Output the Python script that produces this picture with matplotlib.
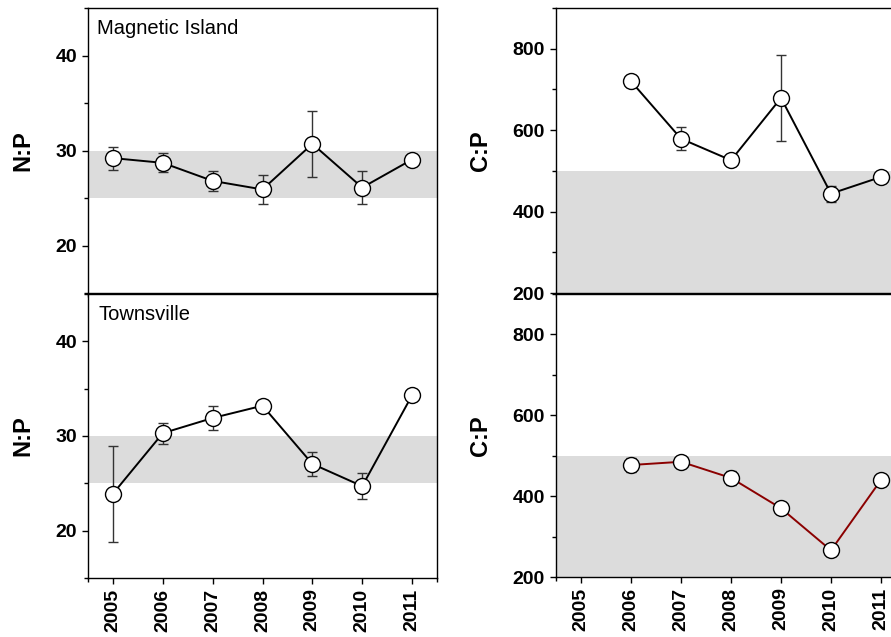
import matplotlib
matplotlib.use("Agg")
import matplotlib.pyplot as plt

plt.rcParams['font.family'] = ['Liberation Sans', 'DejaVu Sans']

years = [2005, 2006, 2007, 2008, 2009, 2010, 2011]

# Magnetic Island
mi_np = [29.2, 28.7, 26.8, 25.9, 30.7, 26.1, 29.05]
mi_np_err = [1.2, 1.0, 1.05, 1.5, 3.5, 1.75, 0.3]
mi_cp_years = [2006, 2007, 2008, 2009, 2010, 2011]
mi_cp = [720, 579, 526, 679, 444, 485]
mi_cp_err = [12, 28, 10, 105, 20, 8]

# Townsville
tv_np = [23.9, 30.3, 31.9, 33.2, 27.05, 24.7, 34.3]
tv_np_err = [5.05, 1.1, 1.3, 0.3, 1.25, 1.4, 0.3]
tv_cp_years = [2006, 2007, 2008, 2009, 2010, 2011]
tv_cp = [477, 485, 445, 370, 266, 440]
tv_cp_err = [18, 6, 18, 6, 6, 6]

fig = plt.figure(figsize=(8.91, 6.37), dpi=100)
W, H = 891, 637

def box(x0, y0, x1, y1):
    return [x0 / W, 1 - y1 / H, (x1 - x0) / W, (y1 - y0) / H]

ax_tl = fig.add_axes(box(88, 8, 437, 293))
ax_bl = fig.add_axes(box(88, 294, 437, 578))
ax_tr = fig.add_axes(box(556, 8, 906, 293))
ax_br = fig.add_axes(box(556, 294, 906, 577))


def draw(ax, x, y, err, color, ylim, band, major, minor, ylabel, bottom):
    ax.axhspan(band[0], band[1], color='#dcdcdc', lw=0, zorder=0)
    ax.errorbar(x, y, yerr=err, fmt='none', ecolor='#333333', elinewidth=1.0,
                capsize=3.5, capthick=1.0, zorder=2)
    ax.plot(x, y, '-o', color=color, lw=1.4, ms=11.5, mfc='white', mec='black',
            mew=1.0, zorder=3)
    ax.set_xlim(2004.5, 2011.5)
    ax.set_ylim(*ylim)
    ax.set_yticks(major)
    ax.set_yticks(minor, minor=True)
    ax.set_xticks(years)
    ax.set_xticks([2004.5, 2011.5], minor=True)
    ax.tick_params(axis='both', which='major', direction='out', length=4, width=1.0,
                   labelsize=14)
    ax.tick_params(axis='both', which='minor', direction='out', length=3, width=1.0)
    ax.tick_params(axis='y', pad=4)
    for lab in ax.get_yticklabels():
        lab.set_fontweight('bold')
    if bottom:
        ax.set_xticklabels([str(v) for v in years], rotation=90, fontweight='bold',
                           fontsize=14)
    else:
        ax.set_xticklabels([])
    ax.set_ylabel(ylabel, fontsize=17, fontweight='bold', labelpad=15)
    for s in ax.spines.values():
        s.set_linewidth(1.0)


draw(ax_tl, years, mi_np, mi_np_err, 'black', (15, 45), (25, 30),
     [20, 30, 40], [15, 25, 35, 45], 'N:P', False)
draw(ax_bl, years, tv_np, tv_np_err, 'black', (15, 45), (25, 30),
     [20, 30, 40], [15, 25, 35, 45], 'N:P', True)
draw(ax_tr, mi_cp_years, mi_cp, mi_cp_err, 'black', (200, 900), (200, 500),
     [200, 400, 600, 800], [300, 500, 700, 900], 'C:P', False)
draw(ax_br, tv_cp_years, tv_cp, tv_cp_err, '#8b0000', (200, 900), (200, 500),
     [200, 400, 600, 800], [300, 500, 700, 900], 'C:P', True)

ax_tl.text(0.026, 0.96, 'Magnetic Island', transform=ax_tl.transAxes,
           fontsize=14.5, va='top', ha='left')
ax_bl.text(0.029, 0.96, 'Townsville', transform=ax_bl.transAxes,
           fontsize=14.5, va='top', ha='left')

plt.savefig('out.png', dpi=100)
